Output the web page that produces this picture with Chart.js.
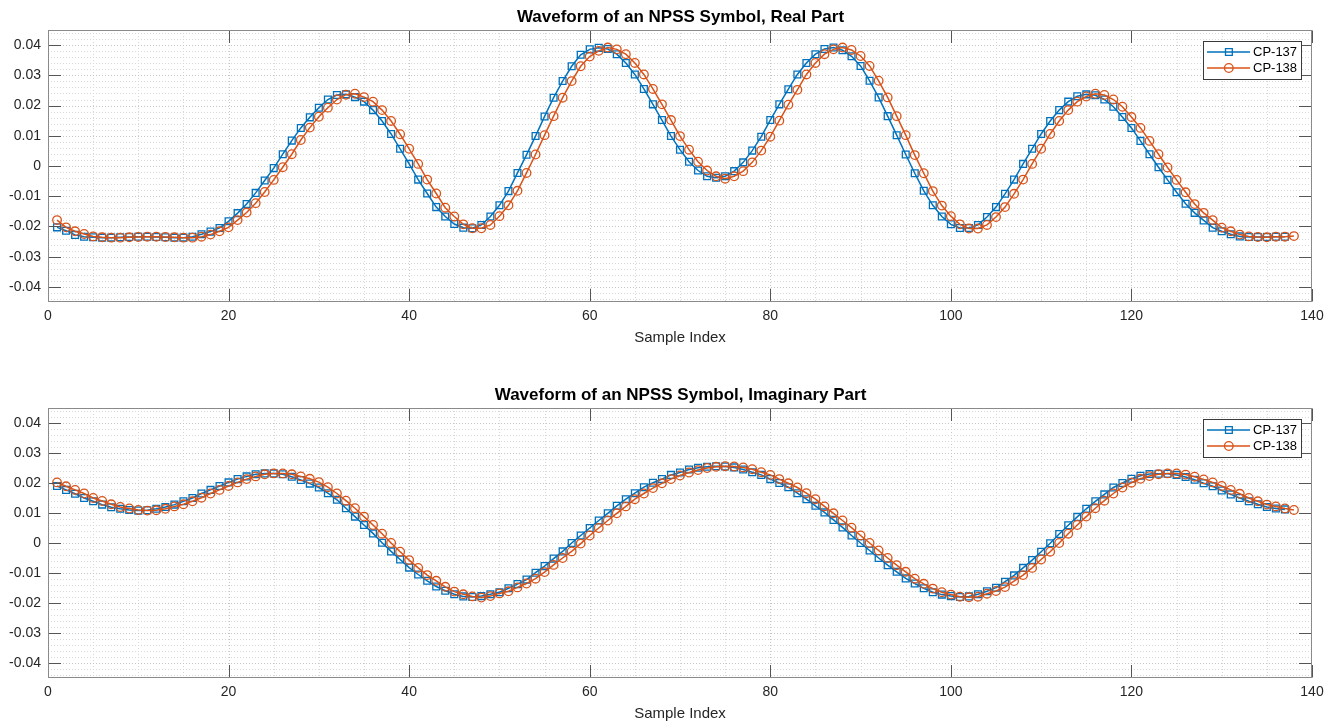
<!DOCTYPE html>
<html>
<head>
<meta charset="utf-8">
<script src="https://cdn.jsdelivr.net/npm/chart.js@4.4.0/dist/chart.umd.min.js"></script>
<style>
html,body{margin:0;padding:0;background:#ffffff;overflow:hidden;width:1337px;height:725px;}
.wrap{position:absolute;left:0;width:1361px;}
#w1{top:0;height:362px;}
#w2{top:378px;height:347px;}
</style>
</head>
<body>
<div class="wrap" id="w1"><canvas id="c1"></canvas></div>
<div class="wrap" id="w2"><canvas id="c2"></canvas></div>
<script>
// ---------------- data ----------------
const chartTitles = ['Waveform of an NPSS Symbol, Real Part', 'Waveform of an NPSS Symbol, Imaginary Part'];
const xAxisLabel = 'Sample Index';
const seriesNames = ['CP-137', 'CP-138'];
const xTicks = [0, 20, 40, 60, 80, 100, 120, 140];
const yTicks = [-0.04, -0.03, -0.02, -0.01, 0, 0.01, 0.02, 0.03, 0.04];
const yTickLabels = ['-0.04', '-0.03', '-0.02', '-0.01', '0', '0.01', '0.02', '0.03', '0.04'];

const realCP137 = [
-0.0203,-0.0214,-0.0228,-0.0234,-0.0236,-0.0237,-0.0237,-0.0236,-0.0235,-0.0234,
-0.0234,-0.0235,-0.0236,-0.0237,-0.0237,-0.0234,-0.0226,-0.0217,-0.0205,-0.0183,
-0.0156,-0.0126,-0.0089,-0.0048,-0.0007,0.0039,0.0084,0.0126,0.0161,0.0193,
0.0220,0.0235,0.0237,0.0228,0.0213,0.0185,0.0149,0.0106,0.0057,0.0007,
-0.0045,-0.0091,-0.0136,-0.0167,-0.0192,-0.0204,-0.0206,-0.0195,-0.0167,-0.0130,
-0.0083,-0.0023,0.0037,0.0099,0.0164,0.0226,0.0281,0.0330,0.0368,0.0386,
0.0391,0.0387,0.0370,0.0341,0.0303,0.0255,0.0204,0.0152,0.0099,0.0054,
0.0014,-0.0015,-0.0034,-0.0039,-0.0034,-0.0017,0.0012,0.0051,0.0097,0.0152,
0.0204,0.0254,0.0303,0.0341,0.0370,0.0387,0.0392,0.0383,0.0363,0.0331,
0.0282,0.0227,0.0165,0.0102,0.0038,-0.0024,-0.0082,-0.0130,-0.0167,-0.0193,
-0.0205,-0.0205,-0.0195,-0.0169,-0.0136,-0.0092,-0.0045,0.0007,0.0057,0.0106,
0.0149,0.0185,0.0213,0.0231,0.0237,0.0234,0.0220,0.0196,0.0162,0.0126,
0.0083,0.0039,-0.0004,-0.0046,-0.0087,-0.0125,-0.0155,-0.0180,-0.0204,-0.0216,
-0.0226,-0.0233,-0.0235,-0.0235,-0.0235,-0.0234,-0.0234
];
const realCP138 = [
-0.0179,-0.0203,-0.0216,-0.0225,-0.0233,-0.0236,-0.0237,-0.0237,-0.0236,-0.0235,
-0.0234,-0.0234,-0.0235,-0.0236,-0.0237,-0.0237,-0.0234,-0.0227,-0.0216,-0.0203,
-0.0179,-0.0154,-0.0123,-0.0086,-0.0046,-0.0004,0.0039,0.0086,0.0127,0.0163,
0.0193,0.0220,0.0236,0.0239,0.0228,0.0213,0.0185,0.0149,0.0105,0.0057,
0.0007,-0.0045,-0.0091,-0.0138,-0.0167,-0.0193,-0.0206,-0.0206,-0.0195,-0.0166,
-0.0130,-0.0082,-0.0023,0.0038,0.0102,0.0165,0.0226,0.0281,0.0330,0.0362,
0.0381,0.0392,0.0386,0.0370,0.0341,0.0303,0.0255,0.0204,0.0152,0.0099,
0.0054,0.0014,-0.0015,-0.0034,-0.0042,-0.0034,-0.0017,0.0012,0.0051,0.0097,
0.0150,0.0203,0.0252,0.0303,0.0341,0.0370,0.0386,0.0392,0.0384,0.0364,
0.0331,0.0282,0.0227,0.0165,0.0102,0.0036,-0.0024,-0.0083,-0.0131,-0.0166,
-0.0193,-0.0207,-0.0207,-0.0195,-0.0169,-0.0136,-0.0092,-0.0045,0.0007,0.0057,
0.0106,0.0149,0.0185,0.0213,0.0230,0.0239,0.0235,0.0220,0.0196,0.0162,
0.0126,0.0083,0.0039,-0.0005,-0.0046,-0.0087,-0.0126,-0.0155,-0.0179,-0.0204,
-0.0216,-0.0227,-0.0233,-0.0235,-0.0236,-0.0234,-0.0234,-0.0232
];
const imagCP137 = [
0.0190,0.0177,0.0164,0.0150,0.0139,0.0128,0.0119,0.0114,0.0110,0.0108,
0.0109,0.0114,0.0120,0.0128,0.0139,0.0150,0.0165,0.0177,0.0190,0.0202,
0.0213,0.0222,0.0229,0.0232,0.0232,0.0229,0.0221,0.0210,0.0198,0.0185,
0.0166,0.0144,0.0116,0.0088,0.0060,0.0032,0.0001,-0.0028,-0.0055,-0.0082,
-0.0105,-0.0126,-0.0145,-0.0159,-0.0171,-0.0178,-0.0180,-0.0177,-0.0171,-0.0164,
-0.0151,-0.0137,-0.0122,-0.0099,-0.0077,-0.0052,-0.0028,0.0000,0.0025,0.0050,
0.0075,0.0099,0.0124,0.0146,0.0166,0.0186,0.0201,0.0213,0.0227,0.0235,
0.0245,0.0251,0.0254,0.0256,0.0255,0.0252,0.0245,0.0236,0.0227,0.0213,
0.0200,0.0186,0.0166,0.0146,0.0124,0.0102,0.0077,0.0052,0.0025,0.0000,
-0.0025,-0.0050,-0.0074,-0.0096,-0.0118,-0.0135,-0.0151,-0.0164,-0.0172,-0.0177,
-0.0180,-0.0178,-0.0171,-0.0161,-0.0149,-0.0129,-0.0108,-0.0083,-0.0057,-0.0029,
-0.0001,0.0030,0.0059,0.0087,0.0114,0.0139,0.0162,0.0185,0.0200,0.0214,
0.0224,0.0230,0.0231,0.0231,0.0227,0.0220,0.0211,0.0199,0.0189,0.0175,
0.0162,0.0150,0.0139,0.0129,0.0120,0.0115,0.0112
];
const imagCP138 = [
0.0202,0.0189,0.0177,0.0165,0.0150,0.0140,0.0129,0.0120,0.0115,0.0110,
0.0108,0.0109,0.0114,0.0122,0.0129,0.0139,0.0151,0.0165,0.0177,0.0190,
0.0202,0.0213,0.0222,0.0229,0.0232,0.0232,0.0229,0.0222,0.0214,0.0203,
0.0186,0.0165,0.0141,0.0116,0.0088,0.0060,0.0031,0.0000,-0.0029,-0.0057,
-0.0083,-0.0107,-0.0126,-0.0146,-0.0162,-0.0171,-0.0178,-0.0182,-0.0177,-0.0168,
-0.0161,-0.0148,-0.0135,-0.0119,-0.0097,-0.0073,-0.0050,-0.0028,-0.0002,0.0025,
0.0050,0.0075,0.0099,0.0122,0.0146,0.0165,0.0183,0.0199,0.0213,0.0225,
0.0235,0.0243,0.0250,0.0254,0.0256,0.0255,0.0252,0.0246,0.0236,0.0227,
0.0213,0.0199,0.0185,0.0166,0.0146,0.0122,0.0099,0.0075,0.0051,0.0025,
0.0000,-0.0025,-0.0050,-0.0074,-0.0096,-0.0119,-0.0136,-0.0152,-0.0164,-0.0172,
-0.0179,-0.0181,-0.0179,-0.0169,-0.0160,-0.0147,-0.0127,-0.0107,-0.0083,-0.0055,
-0.0029,0.0000,0.0031,0.0060,0.0088,0.0116,0.0141,0.0165,0.0185,0.0201,
0.0214,0.0223,0.0229,0.0232,0.0232,0.0228,0.0221,0.0212,0.0202,0.0190,
0.0177,0.0164,0.0150,0.0139,0.0128,0.0122,0.0115,0.0110
];

// ---------------- style ----------------
const FONT = "'Liberation Sans', Arial, Helvetica, sans-serif";
const BLUE = '#0072BD';
const ORANGE = '#D95319';
const AXIS_COLOR = '#262626';
Chart.defaults.font.family = FONT;

function toPoints(arr) { return arr.map((v, i) => ({ x: i + 1, y: v })); }

const matlabAxes = {
  id: 'matlabAxes',
  beforeDatasetsDraw(chart) {
    const { ctx, chartArea: a, scales } = chart;
    const x = scales.x, y = scales.y;
    ctx.save();
    ctx.beginPath();
    ctx.rect(a.left, a.top, a.right - a.left, a.bottom - a.top);
    ctx.clip();
    ctx.lineWidth = 1;
    ctx.setLineDash([1, 2]);
    for (let v = 5; v < 140; v += 5) {
      const px = Math.round(x.getPixelForValue(v)) + 0.5;
      ctx.strokeStyle = (v % 20 === 0) ? '#c6c6c6' : '#d8d8d8';
      ctx.beginPath(); ctx.moveTo(px, a.top); ctx.lineTo(px, a.bottom); ctx.stroke();
    }
    for (let k = -22; k <= 22; k++) {
      const v = k * 0.002;
      const py = Math.round(y.getPixelForValue(v)) + 0.5;
      ctx.strokeStyle = (k % 5 === 0) ? '#c6c6c6' : '#d8d8d8';
      ctx.beginPath(); ctx.moveTo(a.left, py); ctx.lineTo(a.right, py); ctx.stroke();
    }
    ctx.restore();
  },
  afterDatasetsDraw(chart) {
    const { ctx, chartArea: a, scales } = chart;
    const x = scales.x, y = scales.y;
    const L = Math.round(a.left) + 0.5, R = Math.round(a.right) - 0.5;
    const T = Math.round(a.top) + 0.5, B = Math.round(a.bottom) - 0.5;
    const tl = 12.5;
    ctx.save();
    ctx.lineWidth = 1;
    ctx.strokeStyle = '#555555';
    ctx.beginPath();
    xTicks.forEach(v => {
      const px = Math.round(x.getPixelForValue(v)) + 0.5;
      ctx.moveTo(px, B); ctx.lineTo(px, B - tl);
      ctx.moveTo(px, T); ctx.lineTo(px, T + tl);
    });
    yTicks.forEach(v => {
      const py = Math.round(y.getPixelForValue(v)) + 0.5;
      ctx.moveTo(L, py); ctx.lineTo(L + tl, py);
      ctx.moveTo(R, py); ctx.lineTo(R - tl, py);
    });
    ctx.stroke();
    ctx.strokeStyle = '#8a8a8a';
    ctx.strokeRect(L, T, R - L, B - T);
    ctx.restore();
  },
  afterDraw(chart) {
    const { ctx } = chart;
    const bx = 1203.5, by = 41.5, bw = 98, bh = 38;
    ctx.save();
    ctx.fillStyle = '#ffffff';
    ctx.fillRect(bx, by, bw, bh);
    ctx.strokeStyle = '#3a3a3a';
    ctx.lineWidth = 1;
    ctx.strokeRect(bx, by, bw, bh);
    const rows = [52, 68];
    const colors = [BLUE, ORANGE];
    rows.forEach((ry, i) => {
      ctx.strokeStyle = colors[i];
      ctx.lineWidth = 1.5;
      ctx.beginPath(); ctx.moveTo(1207, ry); ctx.lineTo(1250, ry); ctx.stroke();
      ctx.lineWidth = 1.3;
      ctx.beginPath();
      if (i === 0) { ctx.rect(1225.5, ry - 3.4, 6.8, 6.8); }
      else { ctx.arc(1228.8, ry, 4.3, 0, Math.PI * 2); }
      ctx.stroke();
      ctx.fillStyle = '#000000';
      ctx.font = '13px ' + FONT;
      ctx.textBaseline = 'middle';
      ctx.textAlign = 'left';
      ctx.fillText(seriesNames[i], 1253, ry + 0.5);
    });
    ctx.restore();
  }
};

function makeChart(id, title, s137, s138, xAxisHeight, xTitlePadBottom) {
  return new Chart(document.getElementById(id), {
    type: 'line',
    data: {
      datasets: [
        {
          label: seriesNames[0], data: toPoints(s137), borderColor: BLUE, borderWidth: 1.5,
          pointStyle: 'rect', pointRadius: 4.8, pointHoverRadius: 4.8, pointBorderWidth: 1.3,
          pointBorderColor: BLUE, pointBackgroundColor: 'rgba(0,0,0,0)', tension: 0, order: 1
        },
        {
          label: seriesNames[1], data: toPoints(s138), borderColor: ORANGE, borderWidth: 1.5,
          pointStyle: 'circle', pointRadius: 4.3, pointHoverRadius: 4.3, pointBorderWidth: 1.3,
          pointBorderColor: ORANGE, pointBackgroundColor: 'rgba(0,0,0,0)', tension: 0, order: 0
        }
      ]
    },
    options: {
      responsive: true, maintainAspectRatio: false, animation: false, events: [],
      layout: { padding: { left: 0, right: 0, top: 0, bottom: 0 } },
      plugins: {
        legend: { display: false }, tooltip: { enabled: false },
        title: {
          display: true, text: title, color: '#000000',
          font: { size: 17, weight: 'bold', lineHeight: 1, family: FONT },
          padding: { top: 8.5, bottom: 4.5 }
        }
      },
      scales: {
        x: {
          type: 'linear', min: 0, max: 140,
          afterBuildTicks: s => { s.ticks = xTicks.map(v => ({ value: v })); },
          afterFit: s => { s.height = xAxisHeight; },
          grid: { display: false, drawTicks: false }, border: { display: false },
          ticks: { color: AXIS_COLOR, font: { size: 14 }, padding: 6, maxRotation: 0, autoSkip: false },
          title: { display: true, text: xAxisLabel, color: AXIS_COLOR, font: { size: 15, lineHeight: 1.2 }, padding: { top: 0, bottom: xTitlePadBottom } }
        },
        y: {
          type: 'linear', position: 'left', min: -0.045, max: 0.045,
          afterBuildTicks: s => { s.ticks = yTicks.map(v => ({ value: v })); },
          afterFit: s => { s.width = 48; },
          grid: { display: false, drawTicks: false }, border: { display: false },
          ticks: { color: AXIS_COLOR, font: { size: 14 }, padding: 7, autoSkip: false,
            callback: v => { const i = yTicks.findIndex(t => Math.abs(t - v) < 1e-9); return i >= 0 ? yTickLabels[i] : ''; } }
        },
        yR: {
          type: 'linear', position: 'right', min: -0.045, max: 0.045, display: true,
          afterFit: s => { s.width = 49; },
          grid: { display: false, drawTicks: false }, border: { display: false },
          ticks: { display: false }
        }
      }
    },
    plugins: [matlabAxes]
  });
}

makeChart('c1', chartTitles[0], realCP137, realCP138, 60, 15);
makeChart('c2', chartTitles[1], imagCP137, imagCP138, 47, 2);
</script>
</body>
</html>
